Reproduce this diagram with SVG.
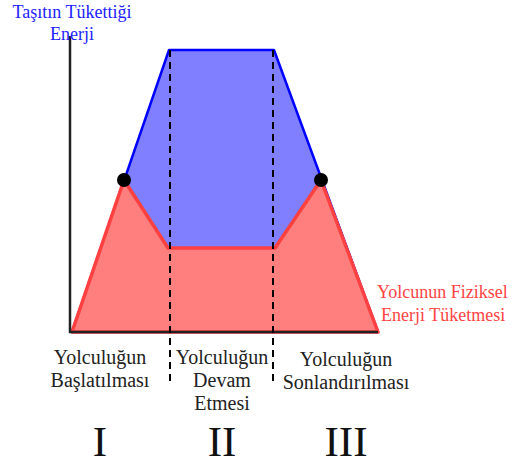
<svg xmlns="http://www.w3.org/2000/svg" width="513" height="466" viewBox="0 0 513 466" font-family="Liberation Serif, DejaVu Serif, serif">
<style>
.lbl{font-size:20px;fill:#222;text-anchor:middle;}
.rom{font-size:43px;fill:#111;text-anchor:middle;}
.blue{font-size:18px;fill:#2222ff;text-anchor:middle;}
.red{font-size:18px;fill:#ff4444;}
.dash{stroke:#000;stroke-width:2;stroke-dasharray:7,5;fill:none;}
</style>
<rect width="513" height="466" fill="#fff"/>
<g id="vehicle-energy">
<polygon points="72,332 169,50 274,50 378,332" fill="#7f7fff" stroke="#0000ff" stroke-width="2.5" stroke-linejoin="round"/>
</g>
<g id="passenger-energy">
<polygon points="72,332 124,180 168,248 275,248 321,180 378,332" fill="#ff7f7f" stroke="#ff4040" stroke-width="3.5" stroke-linejoin="round"/>
</g>
<g id="axes">
<polyline points="70,36 70,332 378,332" fill="none" stroke="#222" stroke-width="2.5"/>
</g>
<g id="connectors">
<line class="dash" x1="170" y1="50" x2="170" y2="386"/>
<line class="dash" x1="273" y1="50" x2="273" y2="386"/>
</g>
<g id="points">
<circle cx="124" cy="180" r="7" fill="#000"/>
<circle cx="321" cy="180" r="7" fill="#000"/>
</g>
<g id="title">
<text class="blue" x="72" y="18">Taşıtın Tükettiği</text>
<text class="blue" x="72" y="40">Enerji</text>
</g>
<g id="passenger-label">
<text class="red" x="377" y="298">Yolcunun Fiziksel</text>
<text class="red" x="381" y="321">Enerji Tüketmesi</text>
</g>
<g id="phase1">
<text class="lbl" x="100" y="364">Yolculuğun</text>
<text class="lbl" x="100" y="387">Başlatılması</text>
<text class="rom" x="100" y="456">I</text>
</g>
<g id="phase2">
<text class="lbl" x="222" y="364">Yolculuğun</text>
<text class="lbl" x="222" y="387">Devam</text>
<text class="lbl" x="222" y="410">Etmesi</text>
<text class="rom" x="222" y="456">II</text>
</g>
<g id="phase3">
<text class="lbl" x="346" y="366">Yolculuğun</text>
<text class="lbl" x="346" y="389">Sonlandırılması</text>
<text class="rom" x="346" y="456">III</text>
</g>
</svg>
